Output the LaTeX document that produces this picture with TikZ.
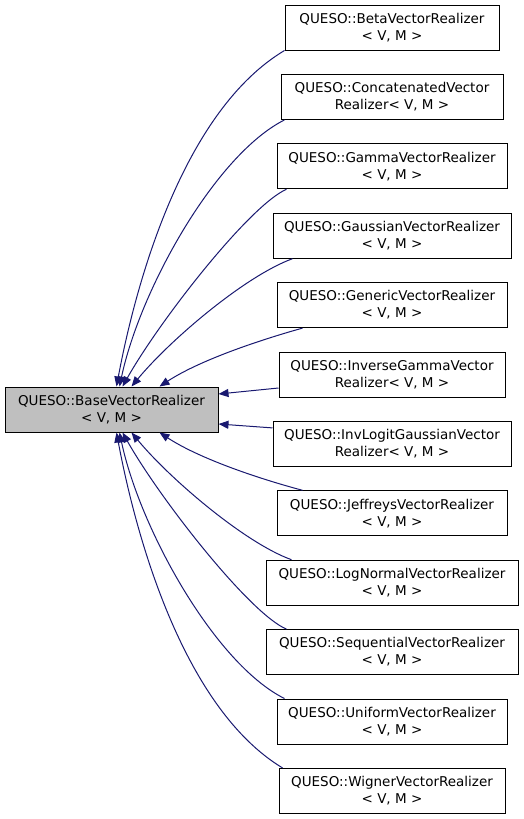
\documentclass[tikz,border=0pt]{standalone}
\usepackage{fontspec}
\setmainfont{DejaVu Sans}
\usetikzlibrary{arrows.meta}
\definecolor{edgeblue}{HTML}{191970}
\definecolor{basegray}{HTML}{BFBFBF}
\begin{document}
\begin{tikzpicture}[x=1pt,y=-1pt,
  cls/.style={draw=black, line width=1pt, fill=white, inner sep=0pt,
    minimum height=45pt, align=center,
    font=\fontsize{13.5pt}{17pt}\selectfont},
  basecls/.style={cls, fill=basegray},
  edge/.style={draw=edgeblue, line width=1pt,
    -{Triangle[length=10pt,width=8pt]}}]
\useasboundingbox (0,0) rectangle (523,819);
\node[basecls, minimum width=213pt] (base) at (111.5,409.5) {QUESO::BaseVectorRealizer\\< V, M >};
\node[cls, minimum width=214pt] (beta)   at (392,27.5)  {QUESO::BetaVectorRealizer\\< V, M >};
\node[cls, minimum width=222pt] (concat) at (392,96.9)  {QUESO::ConcatenatedVector\\Realizer< V, M >};
\node[cls, minimum width=230pt] (gamma)  at (392,166.3) {QUESO::GammaVectorRealizer\\< V, M >};
\node[cls, minimum width=238pt] (gauss)  at (392,235.7) {QUESO::GaussianVectorRealizer\\< V, M >};
\node[cls, minimum width=230pt] (gener)  at (392,305.1) {QUESO::GenericVectorRealizer\\< V, M >};
\node[cls, minimum width=226pt] (invg)   at (392,374.5) {QUESO::InverseGammaVector\\Realizer< V, M >};
\node[cls, minimum width=238pt] (invl)   at (392,443.9) {QUESO::InvLogitGaussianVector\\Realizer< V, M >};
\node[cls, minimum width=230pt] (jeff)   at (392,513.3) {QUESO::JeffreysVectorRealizer\\< V, M >};
\node[cls, minimum width=252pt] (logn)   at (392,582.7) {QUESO::LogNormalVectorRealizer\\< V, M >};
\node[cls, minimum width=252pt] (seq)    at (392,652.1) {QUESO::SequentialVectorRealizer\\< V, M >};
\node[cls, minimum width=230pt] (unif)   at (392,721.5) {QUESO::UniformVectorRealizer\\< V, M >};
\node[cls, minimum width=226pt] (wig)    at (392,790.9) {QUESO::WignerVectorRealizer\\< V, M >};
% upper edges
\draw[edge] (beta.south west) .. controls (185,110) and (137,277) .. ([xshift=112pt]base.north west);
\draw[edge] ([xshift=4pt]concat.south west) .. controls (215,155) and (140,290) .. ([xshift=115pt]base.north west);
\draw[edge] ([xshift=10pt]gamma.south west) .. controls (250,205) and (160,320) .. ([xshift=118pt]base.north west);
\draw[edge] ([xshift=20pt]gauss.south west) .. controls (245,276) and (170,340) .. ([xshift=127pt]base.north west);
\draw[edge] ([xshift=26pt]gener.south west) .. controls (260,340) and (200,360) .. ([xshift=155pt]base.north west);
\draw[edge] ([yshift=-13.5pt]invg.west) -- ([yshift=15.5pt]base.east);
\draw[edge] ([yshift=16pt]invl.west) -- ([yshift=-14.5pt]base.east);
% lower edges
\draw[edge] ([xshift=26pt]jeff.north west) .. controls (260,479) and (200,459) .. ([xshift=155pt]base.south west);
\draw[edge] ([xshift=26pt]logn.north west) .. controls (245,543) and (170,479) .. ([xshift=127pt]base.south west);
\draw[edge] ([xshift=21pt]seq.north west) .. controls (250,614) and (160,499) .. ([xshift=118pt]base.south west);
\draw[edge] ([xshift=8pt]unif.north west) .. controls (215,664) and (140,529) .. ([xshift=115pt]base.south west);
\draw[edge] ([xshift=4pt]wig.north west) .. controls (185,709) and (137,542) .. ([xshift=112pt]base.south west);
\end{tikzpicture}
\end{document}
